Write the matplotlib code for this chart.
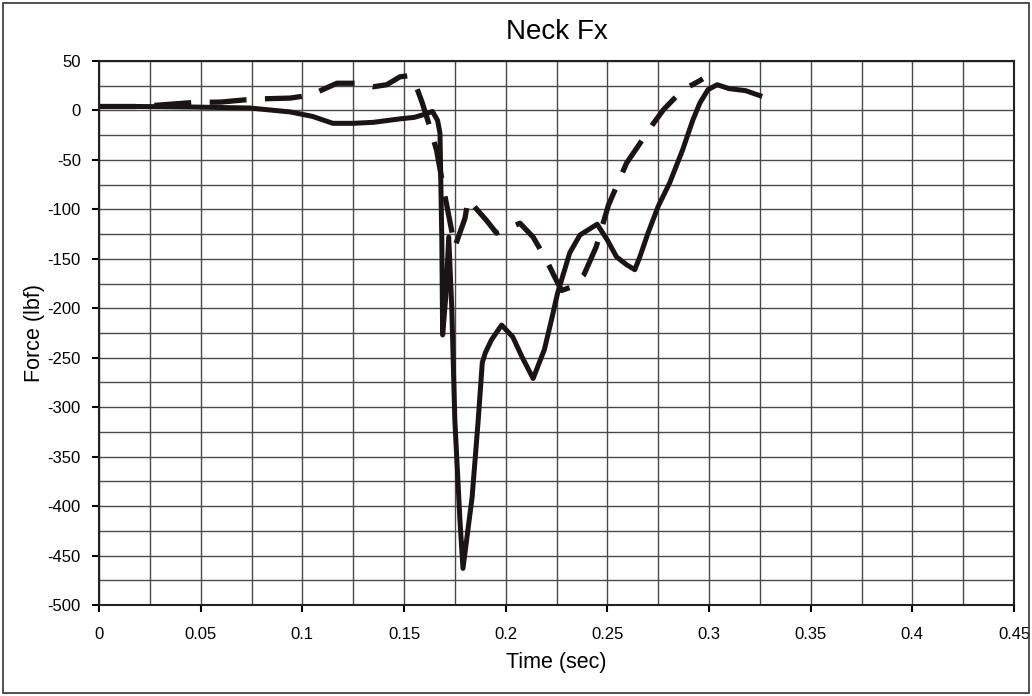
import matplotlib
matplotlib.use("Agg")
import matplotlib.pyplot as plt
import numpy as np
from matplotlib.patches import Rectangle

plt.rcParams['font.family'] = ['Liberation Sans', 'DejaVu Sans']
plt.rcParams['axes.unicode_minus'] = False

# Solid trace
t_solid = [0.0, 0.02, 0.045, 0.074, 0.094, 0.105, 0.115, 0.125, 0.135, 0.148, 0.155,
           0.160, 0.164, 0.1665, 0.1677, 0.1686, 0.169, 0.1705, 0.172, 0.1735,
           0.175, 0.1775, 0.179, 0.1835, 0.1865, 0.1885, 0.19, 0.193, 0.198,
           0.2035, 0.208, 0.2135, 0.219, 0.2225, 0.2255, 0.2315, 0.2365, 0.245,
           0.25, 0.2545, 0.2595, 0.2635, 0.266, 0.27, 0.275, 0.2807, 0.287, 0.292,
           0.2955, 0.2995, 0.304, 0.31, 0.318, 0.325]
f_solid = [4, 4, 3.5, 2.5, -1.5, -6, -13, -13, -12, -8.5, -7,
           -4, -1, -10, -23, -131, -227, -190, -128, -200,
           -313, -414, -463, -391, -313, -255, -245, -232, -217,
           -229, -249, -271, -242, -212, -185, -144, -126, -115,
           -131, -148, -156, -161, -148, -124, -97, -73, -40, -10,
           7.5, 21, 26, 22, 20, 15]

# Dashed trace
t_dash = [0.0, 0.02, 0.046, 0.06, 0.076, 0.094, 0.104, 0.117, 0.127, 0.135, 0.1415,
          0.148, 0.152, 0.1545, 0.159, 0.162, 0.166, 0.1675, 0.17, 0.175, 0.18,
          0.1815, 0.1905, 0.1955, 0.207, 0.2135, 0.22, 0.2245, 0.2275, 0.233,
          0.2385, 0.2445, 0.2505, 0.2595, 0.2645, 0.272, 0.2775, 0.287, 0.2945, 0.297]
f_dash = [4, 4, 8, 8.5, 11.5, 12.5, 15.5, 27.5, 27.5, 24, 26,
          34, 35, 33, 7.5, -12, -40, -57, -85, -138, -109,
          -90, -111, -124, -114, -128, -151, -170, -182, -178,
          -166, -138, -96, -53, -38, -15, 0.5, 20.7, 29, 32]

fig = plt.figure(figsize=(10.32, 6.96), dpi=100)
ax = fig.add_axes([99 / 1032, 1 - 605 / 696, (1014 - 99) / 1032, (605 - 61) / 696])

ax.plot(t_dash, f_dash, color='#1a1414', lw=3.8, dashes=(7, 3.5), solid_capstyle='butt')
ax.plot(t_solid, f_solid, color='#1a1414', lw=3.6)

ax.set_xlim(0, 0.45)
ax.set_ylim(-500, 50)
ax.set_xticks(np.arange(0, 0.451, 0.05))
ax.set_xticklabels(['0', '0.05', '0.1', '0.15', '0.2', '0.25', '0.3', '0.35', '0.4', '0.45'])
ax.set_yticks(np.arange(-500, 51, 50))
ax.set_xticks(np.arange(0, 0.451, 0.025), minor=True)
ax.set_yticks(np.arange(-500, 51, 25), minor=True)
ax.grid(which='both', color='#4a4a4a', lw=1.0)
ax.set_axisbelow(True)
ax.tick_params(which='major', direction='out', length=5, width=1.5, labelsize=12)
ax.tick_params(axis='x', which='major', pad=11)
ax.tick_params(axis='y', which='major', pad=8)
ax.tick_params(which='minor', length=0)
for s in ax.spines.values():
    s.set_linewidth(1.5)
    s.set_color('#222222')

ax.set_title('Neck Fx', fontsize=20, pad=16)
ax.set_xlabel('Time (sec)', fontsize=15.5, labelpad=7)
ax.set_ylabel('Force (lbf)', fontsize=15.5, labelpad=2)

fig.patches.append(Rectangle((0.003, 0.004), 0.994, 0.992, transform=fig.transFigure,
                             fill=False, edgecolor='#333333', lw=1.2))

fig.savefig('out.png', dpi=100)
